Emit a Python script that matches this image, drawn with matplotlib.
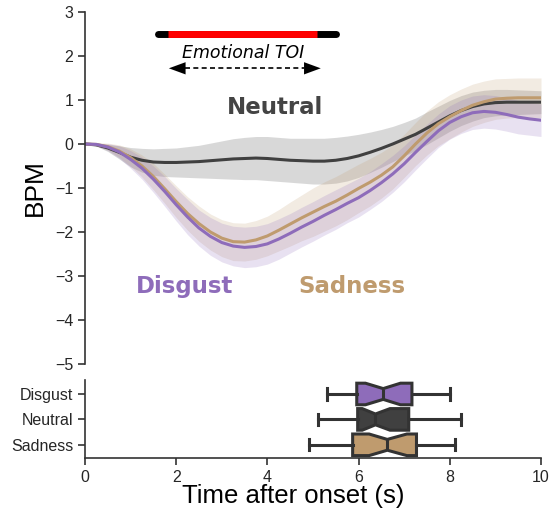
import matplotlib
matplotlib.use('Agg')
import matplotlib.pyplot as plt
import numpy as np

plt.rcParams['font.family'] = ['Liberation Sans', 'DejaVu Sans']

# time axis (s)
t = [0.00, 0.25, 0.50, 0.75, 1.00, 1.25, 1.50, 1.75, 2.00, 2.25, 2.50, 2.75, 3.00, 3.25,
     3.50, 3.75, 4.00, 4.25, 4.50, 4.75, 5.00, 5.25, 5.50, 5.75, 6.00, 6.25, 6.50, 6.75,
     7.00, 7.25, 7.50, 7.75, 8.00, 8.25, 8.50, 8.75, 9.00, 9.25, 9.50, 9.75, 10.00]

# mean BPM change per condition
neutral = [0.00, -0.02, -0.09, -0.19, -0.30, -0.37, -0.41, -0.42, -0.42, -0.41, -0.40,
           -0.38, -0.36, -0.34, -0.33, -0.32, -0.33, -0.35, -0.37, -0.38, -0.39, -0.39,
           -0.37, -0.33, -0.27, -0.19, -0.10, 0.00, 0.11, 0.22, 0.36, 0.50, 0.64, 0.76,
           0.85, 0.91, 0.94, 0.95, 0.95, 0.95, 0.95]
sadness = [0.00, -0.01, -0.06, -0.16, -0.31, -0.50, -0.74, -1.02, -1.31, -1.58, -1.81,
           -2.00, -2.14, -2.22, -2.23, -2.18, -2.09, -1.96, -1.82, -1.68, -1.55, -1.42,
           -1.30, -1.16, -1.01, -0.87, -0.71, -0.52, -0.27, 0.00, 0.25, 0.46, 0.62, 0.76,
           0.88, 0.96, 1.02, 1.04, 1.05, 1.05, 1.05]
disgust = [0.00, -0.01, -0.07, -0.18, -0.35, -0.55, -0.80, -1.08, -1.38, -1.66, -1.91,
           -2.10, -2.24, -2.32, -2.35, -2.33, -2.27, -2.16, -2.03, -1.89, -1.76, -1.62,
           -1.49, -1.35, -1.22, -1.06, -0.88, -0.68, -0.45, -0.19, 0.06, 0.30, 0.49, 0.62,
           0.71, 0.74, 0.72, 0.67, 0.61, 0.57, 0.54]

# half width of shaded error band
neutral_err = [0, 0.03, 0.08, 0.15, 0.22, 0.27, 0.30, 0.32, 0.33, 0.35, 0.37, 0.40, 0.43,
               0.46, 0.48, 0.49, 0.50, 0.50, 0.50, 0.51, 0.52, 0.52, 0.52, 0.51, 0.49, 0.46,
               0.43, 0.40, 0.38, 0.37, 0.37, 0.36, 0.35, 0.34, 0.33, 0.31, 0.30, 0.29, 0.28,
               0.27, 0.26]
sadness_err = [0, 0.03, 0.08, 0.14, 0.20, 0.25, 0.30, 0.33, 0.36, 0.38, 0.40, 0.41, 0.42,
               0.43, 0.43, 0.44, 0.45, 0.47, 0.50, 0.52, 0.55, 0.56, 0.56, 0.56, 0.55, 0.54,
               0.52, 0.50, 0.49, 0.49, 0.50, 0.50, 0.50, 0.49, 0.48, 0.47, 0.46, 0.45, 0.45,
               0.45, 0.45]
disgust_err = [0, 0.03, 0.08, 0.14, 0.20, 0.25, 0.30, 0.34, 0.37, 0.40, 0.41, 0.43, 0.44,
               0.45, 0.46, 0.46, 0.46, 0.46, 0.45, 0.45, 0.45, 0.45, 0.45, 0.44, 0.44, 0.43,
               0.43, 0.42, 0.41, 0.40, 0.39, 0.38, 0.38, 0.38, 0.38, 0.38, 0.38, 0.38, 0.38,
               0.37, 0.37]

# peak latency boxplot stats
box_labels = ['Disgust', 'Neutral', 'Sadness']
whislo = [5.31, 5.12, 4.91]
q1 = [5.96, 5.98, 5.87]
med = [6.54, 6.37, 6.63]
q3 = [7.17, 7.10, 7.27]
whishi = [8.00, 8.24, 8.11]
cilo = [6.15, 6.08, 6.23]
cihi = [6.92, 6.69, 7.06]

c_dis = '#8e6cba'
c_neu = '#404040'
c_sad = '#bf9b6e'

fig = plt.figure(figsize=(5.5, 5.19), dpi=100)
ax = fig.add_axes([0.1545, 0.2987, 0.8291, 0.6782])
ax2 = fig.add_axes([0.1545, 0.1175, 0.8291, 0.1503])

t = np.array(t)
for m, e, c in [(neutral, neutral_err, c_neu), (sadness, sadness_err, c_sad),
                (disgust, disgust_err, c_dis)]:
    m = np.array(m)
    e = np.array(e)
    ax.fill_between(t, m - e, m + e, color=c, alpha=0.2, lw=0)
for m, c in [(neutral, c_neu), (sadness, c_sad), (disgust, c_dis)]:
    ax.plot(t, m, color=c, lw=2.2, solid_joinstyle='round')

# TOI bar
ax.plot([1.6, 5.5], [2.5, 2.5], color='black', lw=5, solid_capstyle='round')
ax.plot([1.82, 5.08], [2.5, 2.5], color='red', lw=5, solid_capstyle='butt')
ax.text(3.47, 2.07, 'Emotional TOI', ha='center', va='center', fontsize=12.5,
        style='italic', family='DejaVu Sans')
ax.plot([2.2, 4.8], [1.72, 1.72], color='black', lw=1.2, ls=(0, (3, 2)))
ax.annotate('', xy=(5.17, 1.72), xytext=(1.84, 1.72),
            arrowprops=dict(arrowstyle='<|-|>,head_length=0.6,head_width=0.22',
                            color='black', lw=0.01, mutation_scale=20,
                            shrinkA=0, shrinkB=0))

ax.text(4.17, 0.82, 'Neutral', ha='center', va='center', fontsize=16.5,
        fontweight='bold', color='#444444', family='DejaVu Sans')
ax.text(2.19, -3.23, 'Disgust', ha='center', va='center', fontsize=16.5,
        fontweight='bold', color=c_dis, family='DejaVu Sans')
ax.text(5.86, -3.23, 'Sadness', ha='center', va='center', fontsize=16.5,
        fontweight='bold', color=c_sad, family='DejaVu Sans')

ax.set_xlim(0, 10)
ax.set_ylim(-5, 3)
ax.set_yticks(range(-5, 4))
ax.set_xticks([])
ax.set_ylabel('BPM', fontsize=19, labelpad=6)
for s in ['top', 'right', 'bottom']:
    ax.spines[s].set_visible(False)

# boxplot
stats = []
for i in range(3):
    stats.append(dict(label=box_labels[i], whislo=whislo[i], q1=q1[i], med=med[i],
                      q3=q3[i], whishi=whishi[i], cilo=cilo[i], cihi=cihi[i], fliers=[]))
bp = ax2.bxp(stats, positions=[0, 1, 2], orientation='horizontal', widths=0.85,
             capwidths=0.44, shownotches=True, patch_artist=True, showfliers=False,
             boxprops=dict(edgecolor='#333333', lw=2.2),
             whiskerprops=dict(color='#333333', lw=2.2),
             capprops=dict(color='#333333', lw=2.2),
             medianprops=dict(color='#333333', lw=2.2))
for patch, c in zip(bp['boxes'], [c_dis, c_neu, c_sad]):
    patch.set_facecolor(c)
ax2.set_ylim(2.52, -0.55)
ax2.set_xlim(0, 10)
ax2.set_xticks([0, 2, 4, 6, 8, 10])
ax2.set_xticklabels(['0', '2', '4', '6', '8', '10'])
ax2.set_xlabel('Time after onset (s)', fontsize=18.5)
ax2.xaxis.set_label_coords(0.456, -0.33)
for s in ['top', 'right']:
    ax2.spines[s].set_visible(False)

for a in [ax, ax2]:
    for s in a.spines.values():
        s.set_color('#333333')
        s.set_linewidth(1.2)
    a.tick_params(direction='out', length=5, width=1.2, color='#333333',
                  labelsize=11.5, labelcolor='#262626')

fig.savefig('out.png', dpi=100)
